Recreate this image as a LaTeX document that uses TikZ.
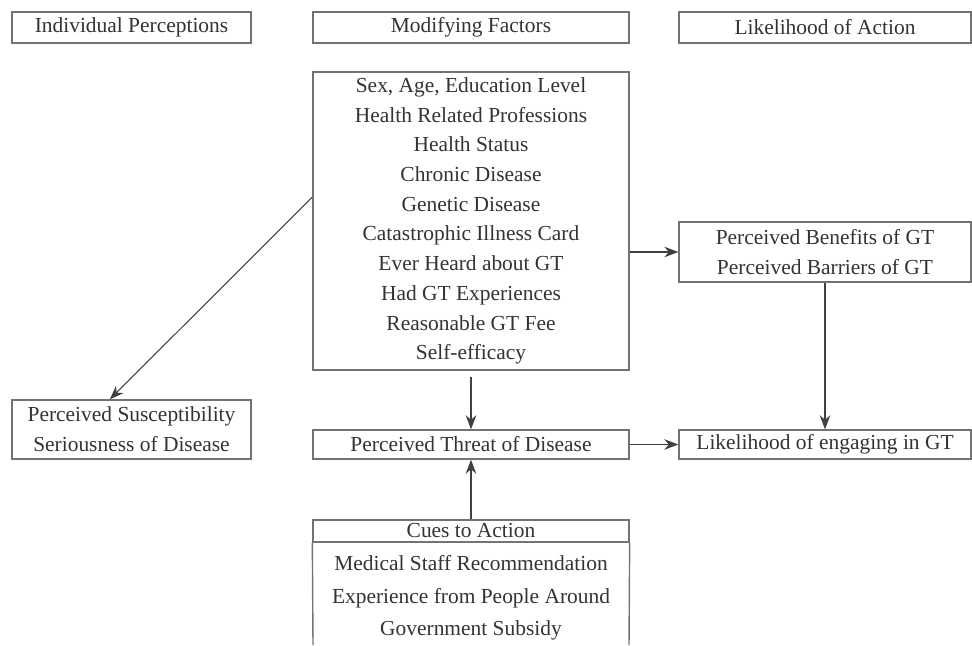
\documentclass[tikz,border=0pt]{standalone}
\usepackage{fontspec}
\setmainfont{Liberation Serif}
\usetikzlibrary{arrows.meta,calc}
\begin{document}
\begin{tikzpicture}[x=0.02cm,y=-0.02cm,
    box/.style={draw=black!55,line width=0.8pt,inner sep=0pt,align=center,text=black!80,
      font=\fontsize{12.2}{16.9}\selectfont},
    arr/.style={draw=black!75,line width=0.6pt,-{Stealth[length=8pt,width=6pt]}}]
        \useasboundingbox[fill=white] (0,0) rectangle (972,645);
        % column headers
        \node[box,minimum width=4.78cm,minimum height=0.62cm] (hdrind) at (131.5,27.5) {Individual Perceptions};
        \node[box,minimum width=6.32cm,minimum height=0.62cm] (hdrmod) at (471,27.5) {Modifying Factors};
        \node[box,minimum width=5.84cm,minimum height=0.62cm] (hdract) at (825,27.5) {Likelihood of Action};
        % boxes
        \node[box,minimum width=6.32cm,minimum height=5.96cm] (factors) at (471,221)
          {Sex, Age, Education Level\\Health Related Professions\\Health Status\\Chronic Disease\\Genetic Disease\\
           Catastrophic Illness Card\\Ever Heard about GT\\Had GT Experiences\\Reasonable GT Fee\\Self-efficacy};
        \node[box,minimum width=5.84cm,minimum height=1.2cm] (benefits) at (825,252)
          {Perceived Benefits of GT\\Perceived Barriers of GT};
        \node[box,minimum width=4.78cm,minimum height=1.18cm] (suscept) at (131.5,429.5)
          {Perceived Susceptibility\\Seriousness of Disease};
        \node[box,minimum width=6.32cm,minimum height=0.58cm] (threat) at (471,444.5) {Perceived Threat of Disease};
        \node[box,minimum width=5.84cm,minimum height=0.58cm] (engage) at (825,444.5) {Likelihood of engaging in GT};
        \node[box,minimum width=6.32cm,minimum height=0.44cm] (cues) at (471,531) {Cues to Action};
        \node[box,draw=none,font=\fontsize{12.2}{18.4}\selectfont] (cuelist) at (471,598)
          {Medical Staff Recommendation\\Experience from People Around\\Government Subsidy};
        \draw[draw=black!55,line width=0.8pt] (cues.south west) -- (313,645);
        \draw[draw=black!55,line width=0.8pt] (cues.south east) -- (629,645);
        % arrows
        \draw[arr] ($(factors.north west)!0.42!(factors.south west)$) -- ($(suscept.north west)!0.41!(suscept.north east)$);
        \draw[arr] (factors.east |- benefits.west) -- (benefits.west);
        \draw[arr,shorten <=0.12cm] (factors.south) -- (threat.north);
        \draw[arr] (cues.north) -- (threat.south);
        \draw[arr] (threat.east) -- (engage.west);
        \draw[arr] (benefits.south) -- (engage.north);
      \end{tikzpicture}
\end{document}
